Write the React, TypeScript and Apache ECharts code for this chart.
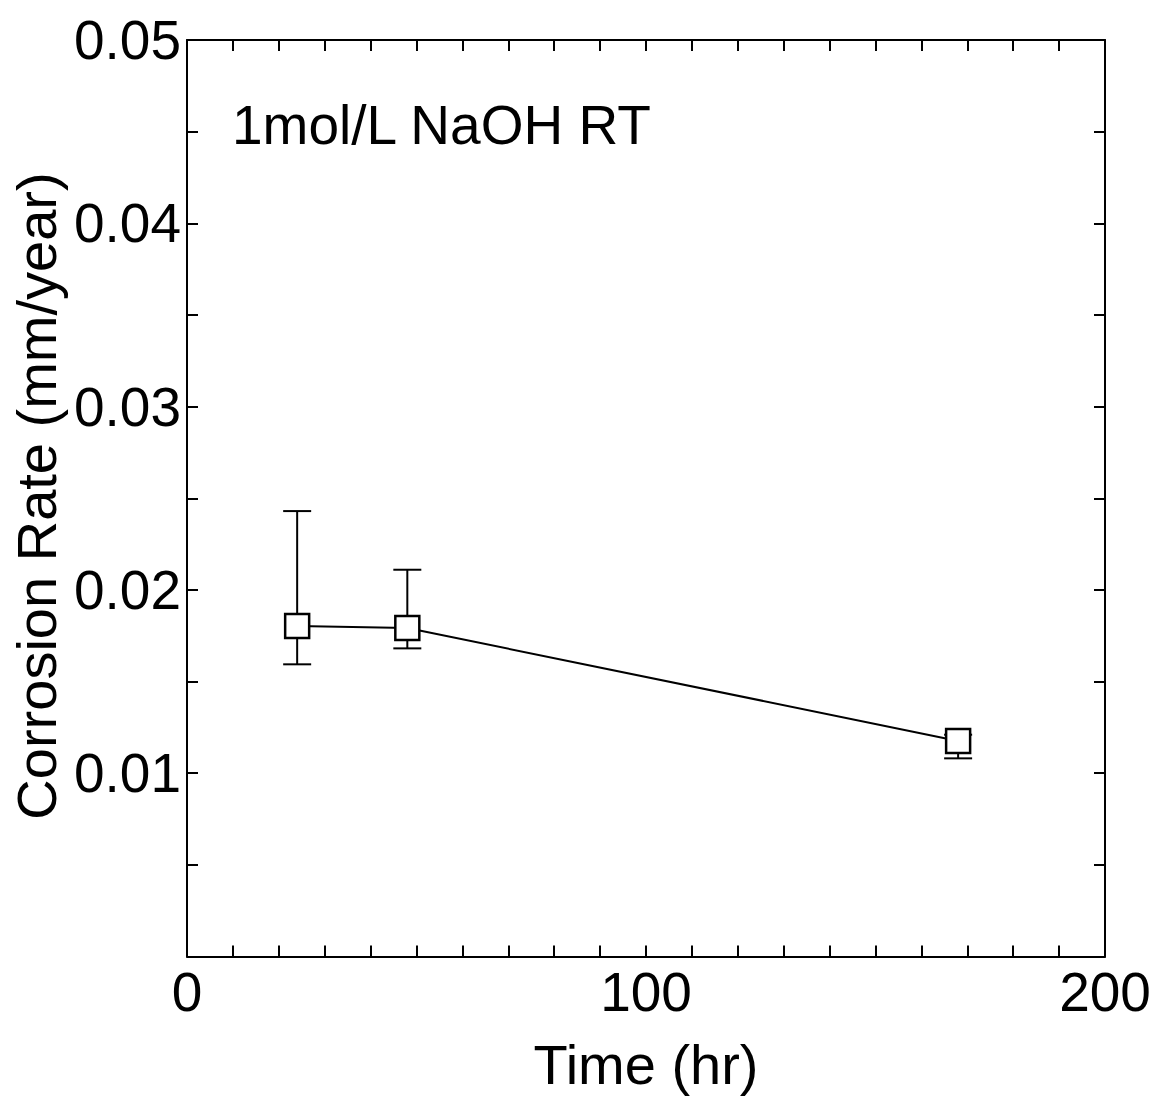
import React, { useEffect, useRef } from "react";
import * as echarts from "echarts";

const timeHr = [24, 48, 168];
const corrosionRate = [0.01803, 0.01792, 0.01176];
const errLow = [0.01594, 0.01681, 0.01081];
const errHigh = [0.0243, 0.0211, 0.0121];
const xTickLabels = [0, 100, 200];
const yTickLabels = [0.01, 0.02, 0.03, 0.04, 0.05];
const titleText = "1mol/L NaOH RT";
const xName = "Time (hr)";
const yName = "Corrosion Rate (mm/year)";

const FONT = "'Liberation Sans', Arial, sans-serif";

export default function App() {
  const ref = useRef<HTMLDivElement>(null);
  useEffect(() => {
    document.body.style.margin = "0";
    const chart = echarts.init(ref.current!, null, { renderer: "svg" });
    const axisCommon = {
      axisLine: { show: true, onZero: false, lineStyle: { color: "#000", width: 2 } },
      axisTick: { show: true, inside: true, length: 11, lineStyle: { color: "#000", width: 2 } },
      splitLine: { show: false },
    };
    const xLabelFmt = (v: number) => (xTickLabels.includes(Math.round(v)) ? String(Math.round(v)) : "");
    const yLabelFmt = (v: number) => {
      const r = Math.round(v * 1000) / 1000;
      return yTickLabels.some((t) => Math.abs(t - r) < 1e-9) ? r.toFixed(2) : "";
    };
    const option: any = {
      animation: false,
      backgroundColor: "#fff",
      grid: { left: 187, top: 40, width: 918, height: 916.5, containLabel: false },
      xAxis: [
        {
          type: "value",
          min: 0,
          max: 200,
          interval: 10,
          position: "bottom",
          ...axisCommon,
          axisLabel: {
            show: true,
            formatter: xLabelFmt,
            color: "#000",
            fontSize: 55,
            fontFamily: FONT,
            margin: 8,
            showMinLabel: true,
            showMaxLabel: true,
          },
          name: xName,
          nameLocation: "middle",
          nameGap: 80,
          nameTextStyle: { color: "#000", fontSize: 56, fontFamily: FONT },
        },
        {
          type: "value",
          min: 0,
          max: 200,
          interval: 10,
          position: "top",
          ...axisCommon,
          axisLabel: { show: false },
        },
      ],
      yAxis: [
        {
          type: "value",
          min: 0,
          max: 0.05,
          interval: 0.005,
          position: "left",
          ...axisCommon,
          axisLabel: {
            show: true,
            formatter: yLabelFmt,
            color: "#000",
            fontSize: 55,
            fontFamily: FONT,
            margin: 6,
            showMinLabel: true,
            showMaxLabel: true,
          },
        },
        {
          type: "value",
          min: 0,
          max: 0.05,
          interval: 0.005,
          position: "right",
          ...axisCommon,
          axisLabel: { show: false },
        },
      ],
      graphic: [
        {
          type: "text",
          left: 232,
          top: 97,
          style: { text: titleText, fill: "#000", fontSize: 55, fontFamily: FONT },
        },
        {
          type: "text",
          x: 36,
          y: 496,
          rotation: Math.PI / 2,
          style: {
            text: yName,
            fill: "#000",
            fontSize: 56,
            fontFamily: FONT,
            align: "center",
            verticalAlign: "middle",
          },
        },
      ],
      series: [
        {
          type: "custom",
          z: 2,
          xAxisIndex: 0,
          yAxisIndex: 0,
          data: timeHr.map((t, i) => [t, errLow[i], errHigh[i]]),
          renderItem: (params: any, api: any) => {
            const x = api.value(0);
            const lo = api.coord([x, api.value(1)]);
            const hi = api.coord([x, api.value(2)]);
            const hw = 14;
            const style = { stroke: "#000", lineWidth: 2 };
            return {
              type: "group",
              children: [
                { type: "line", shape: { x1: lo[0], y1: lo[1], x2: hi[0], y2: hi[1] }, style },
                { type: "line", shape: { x1: lo[0] - hw, y1: lo[1], x2: lo[0] + hw, y2: lo[1] }, style },
                { type: "line", shape: { x1: hi[0] - hw, y1: hi[1], x2: hi[0] + hw, y2: hi[1] }, style },
              ],
            };
          },
        },
        {
          type: "line",
          z: 3,
          xAxisIndex: 0,
          yAxisIndex: 0,
          data: timeHr.map((t, i) => [t, corrosionRate[i]]),
          symbol: "rect",
          symbolSize: 24,
          showAllSymbol: true,
          itemStyle: { color: "#fff", borderColor: "#000", borderWidth: 2.5 },
          lineStyle: { color: "#000", width: 2 },
        },
      ],
    };
    chart.setOption(option);
    return () => chart.dispose();
  }, []);
  return (
    <div
      ref={ref}
      style={{ position: "fixed", left: 0, top: 0, width: 1158, height: 1099, background: "#fff" }}
    />
  );
}
